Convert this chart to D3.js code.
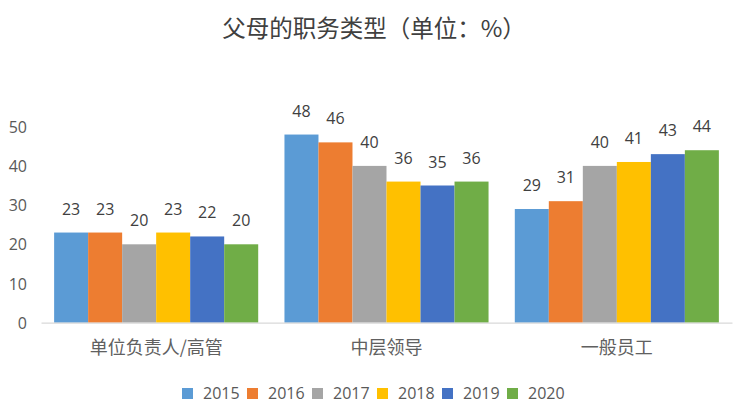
<!DOCTYPE html>
<html><head><meta charset="utf-8">
<script src="https://cdn.jsdelivr.net/npm/d3@7"></script>
<style>html,body{margin:0;padding:0;background:#fff;}svg{display:block;}</style>
</head><body>
<svg id="chart" width="746" height="410"></svg>
<script>
const title = "父母的职务类型（单位：%）";
const categories = ["单位负责人/高管", "中层领导", "一般员工"];
const years = ["2015", "2016", "2017", "2018", "2019", "2020"];
const v2015 = [23, 48, 29];
const v2016 = [23, 46, 31];
const v2017 = [20, 40, 40];
const v2018 = [23, 36, 41];
const v2019 = [22, 35, 43];
const v2020 = [20, 36, 44];
const yTicks = [0, 10, 20, 30, 40, 50];
const colors = ["#5B9BD5", "#ED7D31", "#A5A5A5", "#FFC000", "#4472C4", "#70AD47"];

const seriesValues = [v2015, v2016, v2017, v2018, v2019, v2020];
const data = categories.map((c, ci) => ({
  cat: c,
  vals: years.map((y, yi) => ({ year: y, value: seriesValues[yi][ci], color: colors[yi] }))
}));

const svg = d3.select("#chart");
const numFont = "'Open Sans', 'Noto Sans', sans-serif";
const cjkFont = "'Noto Sans CJK SC', sans-serif";

const x0 = d3.scaleBand().domain(categories).range([41, 732]).paddingInner(0.114).paddingOuter(0.057);
const x1 = d3.scaleBand().domain(years).range([0, x0.bandwidth()]).padding(0);
const y = d3.scaleLinear().domain([0, 50]).range([322.7, 126.7]);

// title
svg.append("text").attr("x", 374).attr("y", 37).attr("text-anchor", "middle")
  .attr("font-family", cjkFont).attr("font-size", 23.5).attr("font-weight", 400)
  .attr("fill", "#404040").text(title);

// y axis (labels only)
const yAxis = d3.axisLeft(y).tickValues(yTicks).tickSize(0).tickPadding(0);
const gy = svg.append("g").attr("transform", "translate(27,0)").call(yAxis);
gy.select(".domain").remove();
gy.selectAll("text").attr("font-family", numFont).attr("font-size", 16).attr("fill", "#595959").attr("dy", "0.35em");

// bars
const groups = svg.append("g").selectAll("g").data(data).join("g")
  .attr("transform", d => `translate(${x0(d.cat)},0)`);
groups.selectAll("rect").data(d => d.vals).join("rect")
  .attr("x", d => x1(d.year)).attr("width", x1.bandwidth())
  .attr("y", d => y(d.value)).attr("height", d => y(0) - y(d.value))
  .attr("fill", d => d.color);
groups.selectAll("text").data(d => d.vals).join("text")
  .attr("x", d => x1(d.year) + x1.bandwidth() / 2)
  .attr("y", d => y(d.value) - 18)
  .attr("text-anchor", "middle").attr("font-family", numFont).attr("font-size", 16)
  .attr("fill", "#404040").text(d => d.value);

// x axis
const xAxis = d3.axisBottom(x0).tickSize(0).tickPadding(0);
const gx = svg.append("g").attr("transform", `translate(0,${y(0)})`).call(xAxis);
gx.select(".domain").attr("stroke", "#d9d9d9").attr("stroke-width", 1.2);
gx.selectAll("text").attr("font-family", cjkFont).attr("font-size", 18).attr("fill", "#606060")
  .attr("y", 25).attr("dy", "0.35em");

// legend
const lx = d3.scaleBand().domain(years).range([182, 182 + 65 * years.length]);
const leg = svg.append("g").selectAll("g").data(years).join("g")
  .attr("transform", d => `translate(${lx(d)},393.5)`);
leg.append("rect").attr("x", 0).attr("y", -5.5).attr("width", 11).attr("height", 11)
  .attr("fill", (d, i) => colors[i]);
leg.append("text").attr("x", 21).attr("y", 0).attr("dy", "0.35em")
  .attr("font-family", numFont).attr("font-size", 16).attr("fill", "#595959").text(d => d);
</script>
</body></html>
